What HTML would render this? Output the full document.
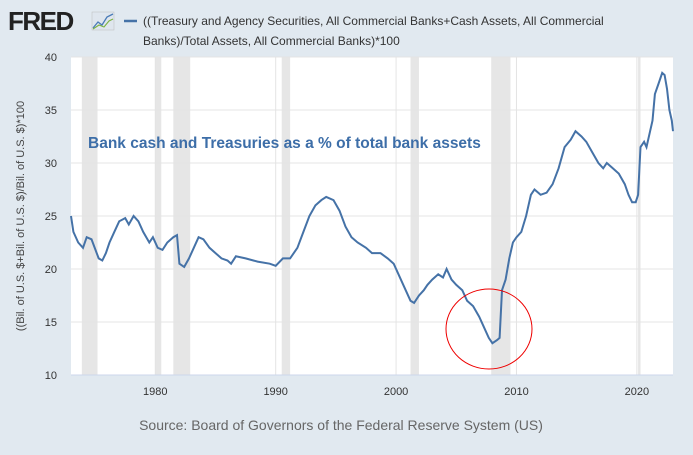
<!DOCTYPE html>
<html><head><meta charset="utf-8"><style>
body{margin:0;width:693px;height:450px;background:#e1e9f0;font-family:"Liberation Sans",sans-serif;overflow:hidden}
</style></head><body>
<svg width="693" height="450" xmlns="http://www.w3.org/2000/svg">
<g>
<text x="8" y="30" font-size="26" font-weight="bold" fill="#222" letter-spacing="-1.5">FRED</text>
<rect x="92" y="12" width="22" height="18" fill="#dfe6ee" stroke="#bbb" stroke-width="0.5"/>
<polyline points="93,28 98,22 102,25 107,17 113,14" fill="none" stroke="#4a7bb7" stroke-width="1.3"/>
<polyline points="93,29 99,25 104,27 109,21 113,19" fill="none" stroke="#7cb342" stroke-width="1.1"/>
</g>
<line x1="124" y1="21" x2="137" y2="21" stroke="#4572a7" stroke-width="2.5"/>
<text font-size="12" fill="#333"><tspan x="143" y="25">((Treasury and Agency Securities, All Commercial Banks+Cash Assets, All Commercial</tspan><tspan x="143" y="45">Banks)/Total Assets, All Commercial Banks)*100</tspan></text>
<rect x="71" y="57" width="602" height="318" fill="#fff"/>
<g id="rec"></g><g id="grid"></g><g id="axes"></g>
<text x="88" y="148" font-size="15.5" font-weight="bold" fill="#3d6ea8">Bank cash and Treasuries as a % of total bank assets</text>
<path id="line" fill="none" stroke="#4572a7" stroke-width="2"/>
<ellipse cx="489" cy="329" rx="43" ry="40" fill="none" stroke="#e00" stroke-width="1"/>
<text transform="translate(24,216) rotate(-90)" text-anchor="middle" font-size="11" fill="#444">((Bil. of U.S. $+Bil. of U.S. $)/Bil. of U.S. $)*100</text>
<text x="341" y="430" text-anchor="middle" font-size="14" fill="#666">Source: Board of Governors of the Federal Reserve System (US)</text>
</svg>
<script>
const years=[1973.0,1973.2,1973.6,1974.0,1974.3,1974.7,1975.3,1975.6,1975.9,1976.2,1976.6,1977.0,1977.5,1977.8,1978.2,1978.6,1979.0,1979.5,1979.8,1980.2,1980.6,1981.0,1981.5,1981.8,1982.0,1982.4,1982.8,1983.2,1983.6,1984.0,1984.5,1985.0,1985.5,1986.0,1986.3,1986.7,1987.5,1988.5,1989.5,1990.0,1990.6,1991.2,1991.8,1992.3,1992.8,1993.3,1993.8,1994.2,1994.8,1995.3,1995.8,1996.3,1996.8,1997.5,1998.0,1998.7,1999.3,1999.8,2000.2,2000.6,2001.2,2001.5,2001.9,2002.3,2002.6,2003.0,2003.5,2003.9,2004.2,2004.6,2005.0,2005.5,2005.9,2006.4,2006.9,2007.3,2007.7,2008.0,2008.4,2008.6,2008.8,2009.1,2009.4,2009.7,2010.0,2010.4,2010.8,2011.2,2011.5,2012.0,2012.5,2013.0,2013.5,2014.0,2014.5,2014.9,2015.4,2015.8,2016.3,2016.8,2017.2,2017.5,2018.0,2018.5,2019.0,2019.3,2019.6,2019.9,2020.1,2020.3,2020.6,2020.8,2021.1,2021.3,2021.5,2021.8,2022.1,2022.3,2022.5,2022.7,2022.9,2023.0];
const values=[25,23.5,22.5,22,23,22.8,21,20.8,21.5,22.5,23.5,24.5,24.8,24.2,25,24.5,23.5,22.5,23,22,21.8,22.5,23,23.2,20.5,20.2,21,22,23,22.8,22,21.5,21,20.8,20.5,21.2,21,20.7,20.5,20.3,21,21,22,23.5,25,26,26.5,26.8,26.5,25.5,24,23,22.5,22,21.5,21.5,21,20.5,19.5,18.5,17,16.8,17.5,18,18.5,19,19.5,19.2,20,19,18.5,18,17,16.5,15.5,14.5,13.5,13,13.3,13.5,18,19,21,22.5,23,23.5,25,27,27.5,27,27.2,28,29.5,31.5,32.2,33,32.5,32,31,30,29.5,30,29.5,29,28,27,26.3,26.3,27,31.5,32,31.5,33,34,36.5,37.5,38.5,38.3,37,35,34,33];
const recessions=[[1973.9,1975.2],[1980.0,1980.5],[1981.5,1982.9],[1990.5,1991.2],[2001.2,2001.9],[2007.9,2009.5],[2020.1,2020.3]];
const yTicks=[10,15,20,25,30,35,40];
const xTicks=[1980,1990,2000,2010,2020];
const X0=71,X1=673,Y0=375,Y1=57,T0=1973.0,T1=2023.0,V0=10,V1=40;
const sx=t=>X0+(t-T0)/(T1-T0)*(X1-X0);
const sy=v=>Y0-(v-V0)/(V1-V0)*(Y0-Y1);
const NS="http://www.w3.org/2000/svg";
function mk(tag,attrs,parent){const e=document.createElementNS(NS,tag);for(const k in attrs)e.setAttribute(k,attrs[k]);document.getElementById(parent).appendChild(e);return e;}
recessions.forEach(r=>{const e=mk('rect',{x:sx(r[0]),y:Y1,width:Math.max(2,sx(r[1])-sx(r[0])),height:Y0-Y1,fill:'#e6e6e6'},'rec');

});
yTicks.forEach(v=>{const l=mk('line',{x1:X0,x2:X1,y1:sy(v),y2:sy(v),stroke:'#e4e4e4','stroke-width':1},'grid');


const t=mk('text',{x:X0-14,y:sy(v)+4,'text-anchor':'end','font-size':11,fill:'#333'},'axes');t.textContent=v;

});
xTicks.forEach(y=>{const l=mk('line',{x1:sx(y),x2:sx(y),y1:Y1,y2:Y0,stroke:'#e4e4e4','stroke-width':1},'grid');


const t=mk('text',{x:sx(y),y:Y0+20,'text-anchor':'middle','font-size':11,fill:'#333'},'axes');t.textContent=y;

});
const ax=mk('line',{x1:X0,x2:X1,y1:Y0,y2:Y0,stroke:'#ccd6eb','stroke-width':1},'axes');


document.getElementById('line').setAttribute('d',years.map((t,i)=>(i?'L':'M')+sx(t).toFixed(1)+','+sy(values[i]).toFixed(1)).join(''));
</script>
</body></html>
